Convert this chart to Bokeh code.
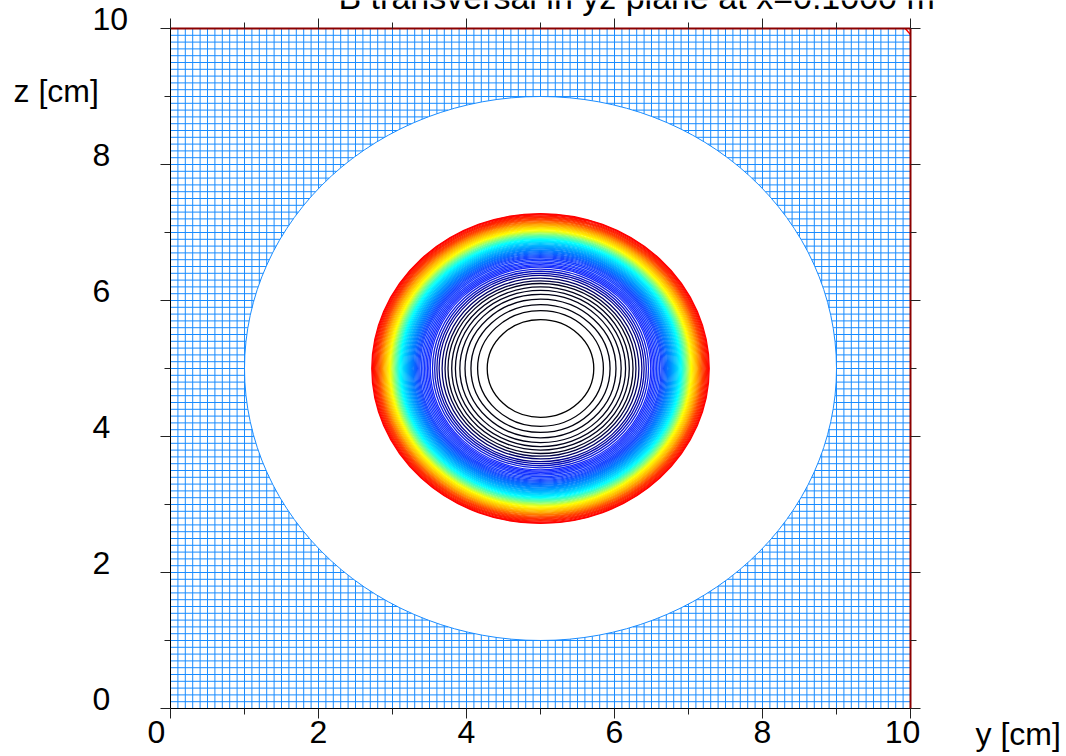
import numpy as np
from bokeh.plotting import figure
from bokeh.models import Range1d, LinearAxis, FixedTicker, ColumnDataSource
from bokeh.core.properties import value
from bokeh.embed import file_html
from bokeh.resources import INLINE

# ---------------- data ----------------
title_text = "B transversal in yz plane at x=0.1000 m"
x_label = "y [cm]"
y_label = "z [cm]"
y_ticks = [0, 2, 4, 6, 8, 10]
z_ticks = [0, 2, 4, 6, 8, 10]
minor_ticks = [1, 3, 5, 7, 9]
tick_labels = ["0", "2", "4", "6", "8", "10"]

domain_min, domain_max = 0.0, 10.0
mesh_step = 0.1
hole_center_y, hole_center_z = 5.0, 5.0
hole_radius = 4.0

ring_center_y, ring_center_z = 5.0, 5.0
ring_radii = [
    0.72, 0.85, 0.94, 1.02, 1.09, 1.15, 1.20, 1.25, 1.29, 1.33, 1.37,
    1.40, 1.43, 1.46, 1.49, 1.51, 1.53, 1.55, 1.57, 1.59, 1.61, 1.63,
    1.645, 1.66, 1.675, 1.69, 1.705, 1.72, 1.733, 1.746, 1.759, 1.772,
    1.785, 1.798, 1.811, 1.824, 1.837, 1.85, 1.862, 1.874, 1.886, 1.898,
    1.91, 1.922, 1.934, 1.946, 1.958, 1.97, 1.982, 1.994, 2.006, 2.018,
    2.03, 2.042, 2.054, 2.066, 2.078, 2.09, 2.102, 2.114, 2.126, 2.138,
    2.15, 2.162, 2.174, 2.186, 2.198, 2.21, 2.222, 2.234, 2.246, 2.258,
    2.27, 2.28,
]
corner_y = [9.93, 10.0]
corner_z = [10.0, 9.91]

# ---------------- layout / styles ----------------
W, H = 1066, 756
FRAME_L, FRAME_R, FRAME_T, FRAME_B = 170, 910, 28, 708   # page pixels of the data box
PX_Y = (FRAME_R - FRAME_L) / (domain_max - domain_min)   # px per cm horizontally
PX_Z = (FRAME_B - FRAME_T) / (domain_max - domain_min)   # px per cm vertically


def dx(px):  # page x -> data y
    return domain_min + (px - FRAME_L) / PX_Y


def dz(py):  # page y -> data z
    return domain_min + (FRAME_B - py) / PX_Z


FONT = "Liberation Sans"
FS = "32px"
MESH_COLOR = "#1a8cff"
EDGE_RED = "#8b0000"
anchor_r = [0.70, 1.25, 1.38, 1.50, 1.65, 1.75, 1.84, 1.90, 1.97, 2.04, 2.12, 2.20, 2.28]
anchor_rgb = [(0, 0, 0), (0, 0, 30), (0, 0, 150), (20, 40, 255), (20, 70, 255),
              (0, 130, 255), (0, 200, 255), (0, 255, 255), (120, 255, 140),
              (255, 255, 0), (255, 170, 0), (255, 60, 0), (255, 0, 0)]


def ring_color(r):
    ch = [int(round(np.interp(r, anchor_r, [c[i] for c in anchor_rgb]))) for i in range(3)]
    return "#%02x%02x%02x" % tuple(ch)


p = figure(width=W, height=H, output_backend="svg", toolbar_location=None,
           x_range=Range1d(dx(0), dx(W)), y_range=Range1d(dz(H), dz(0)),
           x_axis_location=None, y_axis_location=None,
           min_border=0, min_border_left=0, min_border_right=0,
           min_border_top=0, min_border_bottom=0)
p.grid.visible = False
p.outline_line_color = None
p.background_fill_color = "white"
p.border_fill_color = "white"

# mesh lines (outside the circular hole)
xs, ys = [], []
n = int(round((domain_max - domain_min) / mesh_step))
for k in range(n + 1):
    c = round(domain_min + k * mesh_step, 6)
    d = c - hole_center_y
    if abs(d) < hole_radius:
        h = np.sqrt(hole_radius ** 2 - d ** 2)
        xs += [[c, c], [c, c]]
        ys += [[domain_min, hole_center_z - h], [hole_center_z + h, domain_max]]
    else:
        xs.append([c, c]); ys.append([domain_min, domain_max])
    d = c - hole_center_z
    if abs(d) < hole_radius:
        h = np.sqrt(hole_radius ** 2 - d ** 2)
        xs += [[domain_min, hole_center_y - h], [hole_center_y + h, domain_max]]
        ys += [[c, c], [c, c]]
    else:
        xs.append([domain_min, domain_max]); ys.append([c, c])
p.multi_line(xs, ys, line_color=MESH_COLOR, line_width=1)
p.ellipse(x=[hole_center_y], y=[hole_center_z], width=[2 * hole_radius],
          height=[2 * hole_radius], fill_color=None, line_color=MESH_COLOR, line_width=1)

# contour rings
src = ColumnDataSource(dict(
    cx=[ring_center_y] * len(ring_radii),
    cy=[ring_center_z] * len(ring_radii),
    w=[2 * r for r in ring_radii],
    color=[ring_color(r) for r in ring_radii],
))
p.ellipse(x="cx", y="cy", width="w", height="w", fill_color=None,
          line_color="color", line_width=1.3, source=src)
p.line(corner_y, corner_z, line_color="red", line_width=1.5)

# axes drawn at the box edges, ticks pointing outward
# (the panel side is chosen so that the "in" ticks point away from the box)
for side, loc, ticks, line_col in (("above", domain_min, y_ticks, "black"),
                                   ("below", domain_max, y_ticks, EDGE_RED),
                                   ("right", domain_min, z_ticks, "black"),
                                   ("left", domain_max, z_ticks, EDGE_RED)):
    ax = LinearAxis(ticker=FixedTicker(ticks=ticks, minor_ticks=minor_ticks),
                    fixed_location=loc, bounds=(domain_min, domain_max))
    ax.axis_line_color = line_col
    ax.axis_line_width = 1 if line_col == "black" else 2
    ax.major_tick_line_color = "#222222"
    ax.minor_tick_line_color = "#222222"
    ax.major_tick_out = 0
    ax.major_tick_in = 10
    ax.minor_tick_out = 0
    ax.minor_tick_in = 6
    ax.major_label_text_font_size = "0px"
    ax.major_label_standoff = 0
    p.add_layout(ax, side)

# tick labels
left_src = ColumnDataSource(dict(x=[dx(92)] * len(z_ticks),
                                 y=[t + 9.5 / PX_Z for t in z_ticks], t=tick_labels))
p.text(x="x", y="y", text="t", source=left_src, text_align="left",
       text_baseline="middle", text_font=value(FONT), text_font_size=value(FS),
       text_color="black")
bottom_shift_px = [-14, 0, 0, 0, 0, -8]
bot_src = ColumnDataSource(dict(x=[t + s / PX_Y for t, s in zip(y_ticks, bottom_shift_px)],
                                y=[dz(731)] * len(y_ticks), t=tick_labels))
p.text(x="x", y="y", text="t", source=bot_src, text_align="center",
       text_baseline="middle", text_font=value(FONT), text_font_size=value(FS),
       text_color="black")

# axis titles and plot title
p.text(x=[dx(13)], y=[dz(90)], text=[y_label], text_align="left", text_baseline="middle",
       text_font=value(FONT), text_font_size=value(FS), text_color="black")
p.text(x=[dx(975)], y=[dz(733)], text=[x_label], text_align="left", text_baseline="middle",
       text_font=value(FONT), text_font_size=value(FS), text_color="black")
p.text(x=[dx(338)], y=[dz(-4)], text=[title_text], text_align="left",
       text_baseline="middle", text_font=value(FONT), text_font_size=value("34px"),
       text_color="black")

open("out.html", "w").write(file_html(p, INLINE))
